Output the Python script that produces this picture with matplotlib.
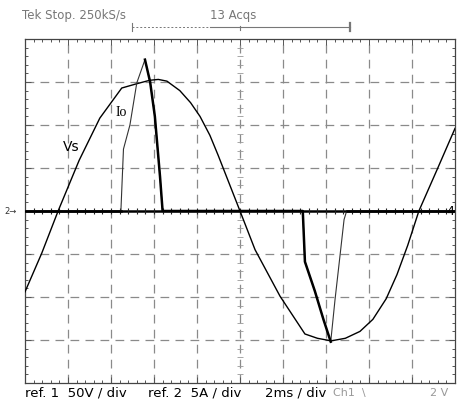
import numpy as np
import matplotlib
matplotlib.use("Agg")
import matplotlib.pyplot as plt
from matplotlib.lines import Line2D

# scope settings
t_per_div = 2.0     # ms / div
v_per_div = 50.0    # V / div  (ref 1)
i_per_div = 5.0     # A / div  (ref 2)

# supply voltage Vs (ms, V)
vs_t = [0.0, 0.78, 1.54, 2.52, 3.48, 4.5, 5.2, 5.8, 6.2, 6.6, 7.2, 7.7, 8.14,
        8.6, 8.98, 10.0, 10.7, 11.86, 13.02, 13.6, 14.24, 14.9, 15.58, 16.18,
        16.8, 17.3, 17.8, 18.32, 19.2, 20.0]
vs_v = [-94, -49, 0, 59, 108, 143, 148, 152, 153, 151, 140, 126, 110,
        88, 65, 0, -45, -99, -143, -148, -151, -148, -140, -126,
        -102, -74, -40, 0, 50, 96]

# output current Io (ms, A)
io_t = [0.0, 4.46, 4.58, 4.88, 5.2, 5.58, 5.82, 6.04, 6.28, 6.4,
        12.92, 13.02, 13.48, 13.88, 14.22, 14.42, 14.66, 14.84, 14.96, 20.0]
io_a = [0.0, 0.0, 7.2, 10.0, 14.9, 17.6, 15.0, 11.0, 4.0, 0.0,
        0.0, -5.9, -9.3, -12.6, -15.2, -10.3, -5.0, -1.0, 0.0, 0.0]

# parts of the current trace drawn heavy (slices into io_t)
heavy = [(0, 2), (5, 15), (18, 20)]

vs_x = np.array(vs_t) / t_per_div
vs_y = np.array(vs_v) / v_per_div
io_x = np.array(io_t) / t_per_div
io_y = np.array(io_a) / i_per_div

fig = plt.figure(figsize=(4.6, 4.05), dpi=100)
ax = fig.add_axes([25/460, 22/405, 430/460, 344/405])
ax.set_xlim(0, 10)
ax.set_ylim(-4, 4)

grid_kw = dict(color="#8a8a8a", lw=0.9, dashes=(7, 5), zorder=1)
for k in range(1, 10):
    ax.axvline(k, **grid_kw)
for k in range(-3, 4):
    if k != 0:
        ax.axhline(k, **grid_kw)

# frame ticks
ax.set_xticks(np.arange(0, 11, 1))
ax.set_xticks(np.arange(0, 10.01, 0.2), minor=True)
ax.set_yticks(np.arange(-4, 5, 1))
ax.set_yticks(np.arange(-4, 4.01, 0.2), minor=True)
ax.tick_params(which="both", direction="in", top=True, right=True,
               labelbottom=False, labelleft=False, color="#555555", width=0.7)
ax.tick_params(which="major", length=4)
ax.tick_params(which="minor", length=2.5)
for s in ax.spines.values():
    s.set_color("#444444")
    s.set_linewidth(0.9)

# centre crosshair with its small ticks
ax.axhline(0, color="black", lw=1.8, zorder=2)
ax.plot(np.arange(0.2, 10, 0.2), np.zeros(49), ls="none", marker="|",
        ms=4.5, mew=0.8, color="#222222", zorder=3)
ax.plot(np.full(39, 5.0), np.arange(-3.8, 3.9, 0.2), ls="none", marker="_",
        ms=4, mew=0.6, color="#999999", zorder=1)

# traces
ax.plot(vs_x, vs_y, color="black", lw=1.0, zorder=4)
ax.plot(io_x, io_y, color="#333333", lw=0.8, zorder=4)
for a, b in heavy:
    ax.plot(io_x[a:b], io_y[a:b], color="black", lw=1.8, zorder=5)

ax.text(0.88, 1.5, "Vs", fontsize=10, ha="left", va="center")
ax.text(2.1, 2.29, "Io", fontsize=10, family="Liberation Serif",
        ha="left", va="center")

# channel markers at the edges
fig.text(4/460, 1 - 212/405, "2→", fontsize=6, color="#333333", va="center")
fig.text(446/460, 1 - 211/405, "4", fontsize=9, color="black", va="center")

# header
gray = "#777777"
fig.text(22/460, 1 - 15/405, "Tek Stop. 250kS/s", fontsize=8.5, color=gray,
         va="center")
fig.text(210/460, 1 - 15/405, "13 Acqs", fontsize=8.5, color=gray, va="center")
yb = 1 - 27/405
fig.add_artist(Line2D([132/460, 210/460], [yb, yb], color=gray, lw=0.7,
                      ls=(0, (2, 2))))
fig.add_artist(Line2D([210/460, 350/460], [yb, yb], color=gray, lw=0.8))
fig.add_artist(Line2D([132/460, 132/460], [yb - 4/405, yb + 4/405],
                      color=gray, lw=0.8))
fig.add_artist(Line2D([350/460, 350/460], [yb - 4/405, yb + 4/405],
                      color=gray, lw=1.6))
fig.add_artist(Line2D([240/460, 240/460], [yb - 3/405, yb + 1/405],
                      color=gray, lw=0.8))

# footer
yf = 1 - 393/405
fig.text(25/460, yf, "ref. 1  50V / div", fontsize=9.5, va="center")
fig.text(148/460, yf, "ref. 2  5A / div", fontsize=9.5, va="center")
fig.text(265/460, yf, "2ms / div", fontsize=9.5, va="center")
fig.text(333/460, yf, "Ch1  \\", fontsize=8, color="#999999", va="center")
fig.text(430/460, yf, "2 V", fontsize=8, color="#999999", va="center")

fig.savefig("out.png", dpi=100, facecolor="white")
